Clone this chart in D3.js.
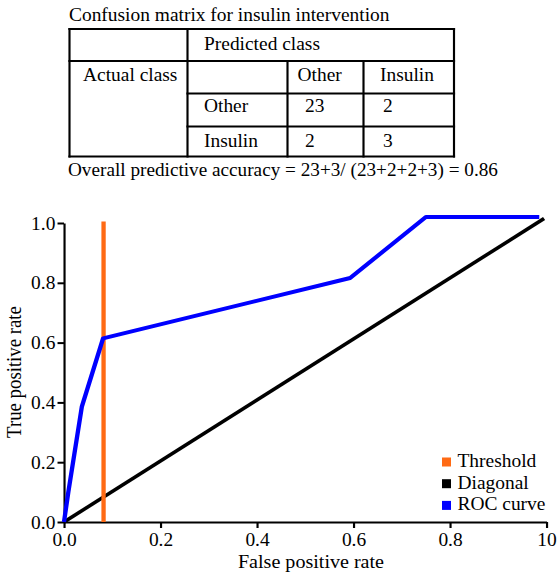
<!DOCTYPE html>
<html>
<head>
<meta charset="utf-8">
<script src="https://cdn.jsdelivr.net/npm/d3@7"></script>
<style>
  body { margin: 0; background: #fff; }
  svg text { font-family: "Liberation Serif", "Times New Roman", serif; fill: #000; }
</style>
</head>
<body>
<div id="chart"></div>
<script>
// data
const tableTitle = "Confusion matrix for insulin intervention";
const classNames = ["Other", "Insulin"];
const counts = [[23, 2], [2, 3]];
const accuracyText = "Overall predictive accuracy = 23+3/ (23+2+2+3) = 0.86";

const rocFpr = [0, 0.009, 0.037, 0.081, 0.593, 0.75, 0.985];
const rocTpr = [0, 0.10, 0.386, 0.614, 0.816, 1.02, 1.02];
const diagFpr = [0, 0.995];
const diagTpr = [0, 1.015];
const thresholdFpr = 0.082;
const thresholdTpr = [0, 1.005];

const tickVals = [0, 0.2, 0.4, 0.6, 0.8, 1.0];
const xTickLabels = ["0.0", "0.2", "0.4", "0.6", "0.8", "10"];
const yTickLabels = ["0.0", "0.2", "0.4", "0.6", "0.8", "1.0"];
const legendItems = [
  { name: "Threshold", color: "#ff6a14" },
  { name: "Diagonal", color: "#000000" },
  { name: "ROC curve", color: "#0000ff" }
];

// layout (horizontal stretch of the original picture)
const SX = 1.08;
const width = 558, height = 575;
const hx = v => v / SX;
const fs = 18;

const svg = d3.select("#chart").append("svg")
  .attr("width", width).attr("height", height)
  .attr("viewBox", `0 0 ${width / SX} ${height}`)
  .attr("preserveAspectRatio", "none");

// ---- confusion matrix table ----
const tbl = svg.append("g");
tbl.append("text").attr("x", hx(69)).attr("y", 21.5).attr("font-size", fs).text(tableTitle);

const L = 69.5, R = 454, T = 29, B = 156.5;
const c1 = 187.5, c2 = 287.5, c3 = 363.5;
const r1 = 61, r2 = 93.5, r3 = 126.5;
const lines = [
  [L, T, R, T], [L, B, R, B], [L, T, L, B], [R, T, R, B],
  [c1, T, c1, B], [L, r1, R, r1],
  [c2, r1, c2, B], [c3, r1, c3, B],
  [c1, r2, R, r2], [c1, r3, R, r3]
];
tbl.selectAll("line").data(lines).join("line")
  .attr("x1", d => hx(d[0])).attr("y1", d => d[1])
  .attr("x2", d => hx(d[2])).attr("y2", d => d[3])
  .attr("stroke", "#000").attr("stroke-width", 2)
  .attr("stroke-linecap", "square");

const cellText = [
  { x: 204, y: 50, t: "Predicted class" },
  { x: 83, y: 81.5, t: "Actual class" },
  { x: 297.5, y: 81.5, t: classNames[0] },
  { x: 380, y: 81.5, t: classNames[1] },
  { x: 204, y: 112.5, t: classNames[0] },
  { x: 204, y: 147, t: classNames[1] },
  { x: 305, y: 112.5, t: counts[0][0] },
  { x: 383, y: 112.5, t: counts[0][1] },
  { x: 305, y: 147, t: counts[1][0] },
  { x: 383, y: 147, t: counts[1][1] }
];
tbl.selectAll("text.cell").data(cellText).join("text")
  .attr("class", "cell")
  .attr("x", d => hx(d.x)).attr("y", d => d.y)
  .attr("font-size", fs).text(d => d.t);

tbl.append("text").attr("x", hx(68)).attr("y", 176.5).attr("font-size", 17.8).text(accuracyText);

// ---- ROC chart ----
const x = d3.scaleLinear().domain([0, 1]).range([hx(64), hx(546.5)]);
const y = d3.scaleLinear().domain([0, 1]).range([522, 223]);

const xAxis = d3.axisBottom(x).tickValues(tickVals)
  .tickFormat((d, i) => xTickLabels[i]).tickSize(6).tickSizeOuter(0).tickPadding(3);
const yAxis = d3.axisLeft(y).tickValues(tickVals)
  .tickFormat((d, i) => yTickLabels[i]).tickSize(6).tickSizeOuter(0).tickPadding(2);

const gx = svg.append("g").attr("transform", "translate(0,522)").call(xAxis);
const gy = svg.append("g").attr("transform", `translate(${hx(64)},0)`).call(yAxis);
[gx, gy].forEach(g => {
  g.selectAll("path, line").attr("stroke", "#000").attr("stroke-width", 2);
  g.selectAll("text").attr("font-size", fs).attr("font-family", "Liberation Serif").attr("fill", "#000");
});
gx.selectAll(".tick text").attr("dy", null).attr("y", 24.5);
gy.selectAll(".tick text").attr("dy", "0.34em");

svg.append("text")
  .attr("x", hx(311)).attr("y", 568)
  .attr("text-anchor", "middle").attr("font-size", 18.6)
  .text("False positive rate");
svg.append("text")
  .attr("transform", `translate(${hx(21)},372) rotate(-90)`)
  .attr("text-anchor", "middle").attr("font-size", 18.8)
  .text("True positive rate");

const line = d3.line().x(d => x(d[0])).y(d => y(d[1]));

svg.append("path")
  .datum(diagFpr.map((v, i) => [v, diagTpr[i]]))
  .attr("d", line).attr("fill", "none")
  .attr("stroke", legendItems[1].color).attr("stroke-width", 3.5);

svg.append("path")
  .datum(thresholdTpr.map(v => [thresholdFpr, v]))
  .attr("d", line).attr("fill", "none")
  .attr("stroke", legendItems[0].color).attr("stroke-width", 4);

svg.append("path")
  .datum(rocFpr.map((v, i) => [v, rocTpr[i]]))
  .attr("d", line).attr("fill", "none")
  .attr("stroke", legendItems[2].color).attr("stroke-width", 4)
  .attr("stroke-linejoin", "round");

// legend
const leg = svg.append("g");
const legItem = leg.selectAll("g").data(legendItems).join("g")
  .attr("transform", (d, i) => `translate(${hx(442)},${457.5 + i * 21.7})`);
legItem.append("rect").attr("width", hx(9)).attr("height", 9).attr("fill", d => d.color);
legItem.append("text").attr("x", hx(15.5)).attr("y", 9.3)
  .attr("font-size", fs).text(d => d.name);
</script>
</body>
</html>
